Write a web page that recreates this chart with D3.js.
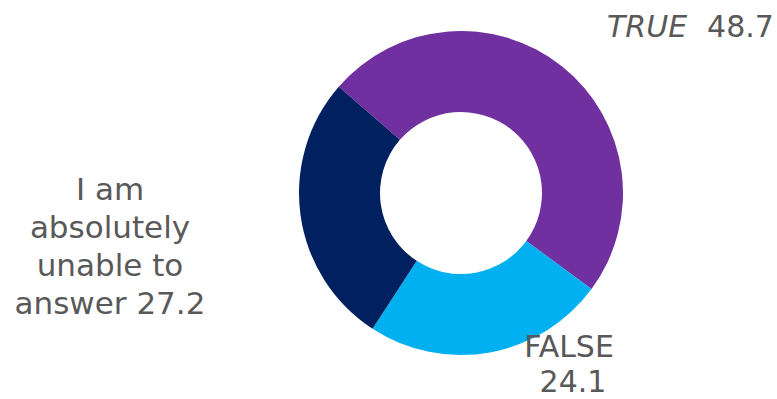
<!DOCTYPE html>
<html>
<head>
<meta charset="utf-8">
<script src="https://cdn.jsdelivr.net/npm/d3@7"></script>
<style>
  html, body { margin: 0; padding: 0; background: #ffffff; }
  svg { display: block; }
  text { font-family: "DejaVu Sans", Verdana, sans-serif; fill: #595959; }
</style>
</head>
<body>
<svg id="chart" width="777" height="399"></svg>
<script>
// Answer shares (percent)
const categories = ["TRUE", "FALSE", "I am absolutely unable to answer"];
const values = [48.7, 24.1, 27.2];
const colors = ["#7030A0", "#00B0F0", "#002060"];

const svg = d3.select("#chart");
const cx = 461, cy = 193;
const outerR = 162, innerR = 81;

const pie = d3.pie()
  .sort(null)
  .value(d => d.value)
  .startAngle(-49 * Math.PI / 180)
  .endAngle(311 * Math.PI / 180);

const data = categories.map((c, i) => ({ name: c, value: values[i], color: colors[i] }));
const arcs = pie(data);
const arc = d3.arc().innerRadius(innerR).outerRadius(outerR);

const g = svg.append("g").attr("transform", `translate(${cx},${cy})`);
g.selectAll("path")
  .data(arcs)
  .join("path")
  .attr("d", arc)
  .attr("fill", d => d.data.color);

const fs = 30;
const fmt = d3.format(".1f");

// TRUE label: italic name, upright value
const t1 = svg.append("text").attr("x", 607).attr("y", 37).attr("font-size", fs);
t1.append("tspan").attr("font-style", "italic").text(categories[0]);
t1.append("tspan").attr("dx", 20).text(fmt(values[0]));

// FALSE label, two lines
const t2 = svg.append("text").attr("font-size", fs).attr("text-anchor", "middle");
t2.append("tspan").attr("x", 569).attr("y", 357).text(categories[1]);
t2.append("tspan").attr("x", 573).attr("y", 392).text(fmt(values[1]));

// Left label, wrapped into four centred lines
const leftLines = ["I am", "absolutely", "unable to", "answer " + fmt(values[2])];
const t3 = svg.append("text").attr("font-size", 31).attr("text-anchor", "middle");
t3.selectAll("tspan")
  .data(leftLines)
  .join("tspan")
  .attr("x", 110)
  .attr("y", (d, i) => 200 + i * 38)
  .text(d => d);
</script>
</body>
</html>
